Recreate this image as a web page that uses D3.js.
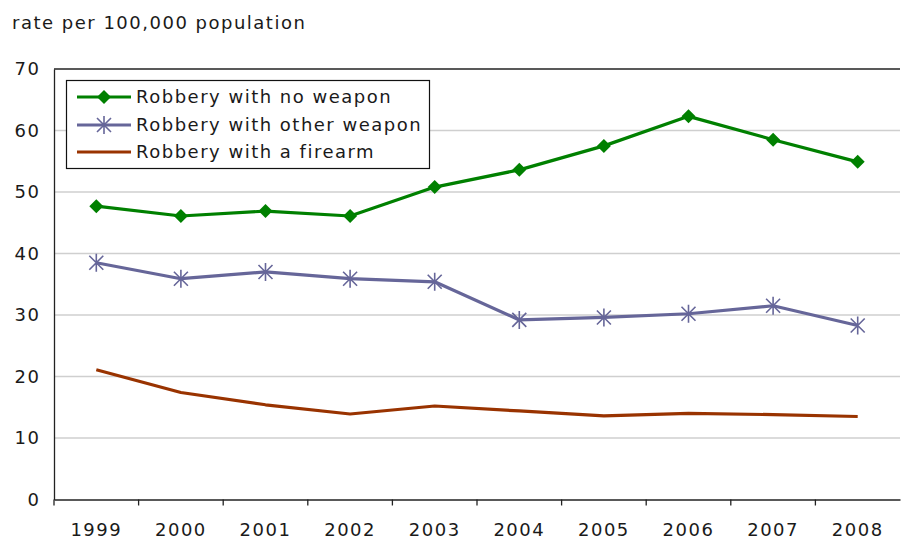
<!DOCTYPE html>
<html>
<head>
<meta charset="utf-8">
<script src="https://cdn.jsdelivr.net/npm/d3@7"></script>
<style>
  body { margin: 0; background: #fff; }
  text { font-family: "DejaVu Sans", Verdana, sans-serif; fill: #1a1a1a; letter-spacing: 1.5px; }
</style>
</head>
<body>
<svg id="canvas" width="901" height="540"></svg>
<script>
let years = ['1999', '2000', '2001', '2002', '2003', '2004', '2005', '2006', '2007', '2008']
let noWeapon = [47.7, 46.1, 46.9, 46.1, 50.8, 53.6, 57.5, 62.3, 58.5, 54.9]
let otherWeapon = [38.5, 35.9, 37.0, 35.9, 35.4, 29.2, 29.6, 30.2, 31.5, 28.3]
let firearm = [21.1, 17.4, 15.4, 13.9, 15.2, 14.4, 13.6, 14.0, 13.8, 13.5]
let yTicks = [0, 10, 20, 30, 40, 50, 60, 70]
let seriesNames = ['Robbery with no weapon', 'Robbery with other weapon', 'Robbery with a firearm']

let series = [
    {name: seriesNames[0], values: noWeapon, color: '#008000', marker: 'diamond'},
    {name: seriesNames[1], values: otherWeapon, color: '#666699', marker: 'star'},
    {name: seriesNames[2], values: firearm, color: '#993300', marker: 'none'}
]

let canvas = d3.select('#canvas')

let plotLeft = 54, plotRight = 900, plotTop = 69, plotBottom = 499.5

let xScale = d3.scaleBand()
                .domain(years)
                .range([plotLeft, plotRight])

let yScale = d3.scaleLinear()
                .domain([0, 70])
                .range([plotBottom, plotTop])

// title
canvas.append('text')
        .attr('x', 12)
        .attr('y', 29)
        .style('font-size', '18px')
        .text('rate per 100,000 population')

// gridlines
canvas.append('g')
        .selectAll('line')
        .data(yTicks.filter((d) => d > 0 && d < 70))
        .enter()
        .append('line')
        .attr('x1', plotLeft)
        .attr('x2', plotRight)
        .attr('y1', (d) => yScale(d))
        .attr('y2', (d) => yScale(d))
        .attr('stroke', '#cfcfcf')
        .attr('stroke-width', 1.3)

// top border
canvas.append('line')
        .attr('x1', plotLeft).attr('x2', plotRight)
        .attr('y1', plotTop).attr('y2', plotTop)
        .attr('stroke', '#222')
        .attr('stroke-width', 1.3)

// y axis
let yAxis = d3.axisLeft(yScale).tickValues(yTicks).tickSize(0).tickPadding(13.5)
let yG = canvas.append('g')
        .attr('transform', 'translate(' + plotLeft + ',0)')
        .call(yAxis)
yG.select('.domain').attr('stroke', '#222').attr('stroke-width', 1.3)
yG.selectAll('text').style('font-size', '18px').style('font-family', '"DejaVu Sans", Verdana, sans-serif').attr('fill', '#1a1a1a')

// x axis with ticks at band boundaries
let xG = canvas.append('g')
        .attr('transform', 'translate(0,' + plotBottom + ')')
        .call(d3.axisBottom(xScale).tickSize(0).tickPadding(24))
xG.select('.domain').attr('stroke', '#222').attr('stroke-width', 1.5)
xG.selectAll('text').style('font-size', '18px').style('font-family', '"DejaVu Sans", Verdana, sans-serif').attr('fill', '#1a1a1a')
xG.selectAll('.boundary')
        .data(years)
        .enter()
        .append('line')
        .attr('x1', (d) => xScale(d))
        .attr('x2', (d) => xScale(d))
        .attr('y1', 0)
        .attr('y2', 6)
        .attr('stroke', '#222')
        .attr('stroke-width', 1.3)

let line = d3.line()
                .x((d, i) => xScale(years[i]) + xScale.bandwidth() / 2)
                .y((d) => yScale(d))

let drawMarker = (g, type, color) => {
    if(type === 'diamond'){
        g.append('path')
            .attr('d', 'M0,-7 L7,0 L0,7 L-7,0 Z')
            .attr('fill', color)
    }else if(type === 'star'){
        g.append('path')
            .attr('d', 'M0,-9 L0,9 M-7,-7 L7,7 M-7,7 L7,-7')
            .attr('stroke', color)
            .attr('stroke-width', 1.6)
            .attr('fill', 'none')
    }
}

series.slice().reverse().forEach((s) => {
    canvas.append('path')
            .datum(s.values)
            .attr('d', line)
            .attr('fill', 'none')
            .attr('stroke', s.color)
            .attr('stroke-width', 3.2)
            .attr('stroke-linejoin', 'round')

    s.values.forEach((v, i) => {
        let g = canvas.append('g')
                .attr('transform', 'translate(' + (xScale(years[i]) + xScale.bandwidth() / 2) + ',' + yScale(v) + ')')
        drawMarker(g, s.marker, s.color)
    })
})

// legend
let legend = canvas.append('g')
legend.append('rect')
        .attr('x', 66.5)
        .attr('y', 80.5)
        .attr('width', 363)
        .attr('height', 88)
        .attr('fill', '#fff')
        .attr('stroke', '#111')
        .attr('stroke-width', 1.2)

let legendRows = [97, 125, 152]
series.forEach((s, i) => {
    let row = legend.append('g')
            .attr('transform', 'translate(0,' + legendRows[i] + ')')
    row.append('line')
            .attr('x1', 77).attr('x2', 131)
            .attr('y1', 0).attr('y2', 0)
            .attr('stroke', s.color)
            .attr('stroke-width', 3.2)
    let m = row.append('g').attr('transform', 'translate(104,0)')
    drawMarker(m, s.marker, s.color)
    row.append('text')
            .attr('x', 136)
            .attr('y', 0)
            .attr('dy', '0.35em')
            .style('font-size', '18px')
            .text(s.name)
})
</script>
</body>
</html>
